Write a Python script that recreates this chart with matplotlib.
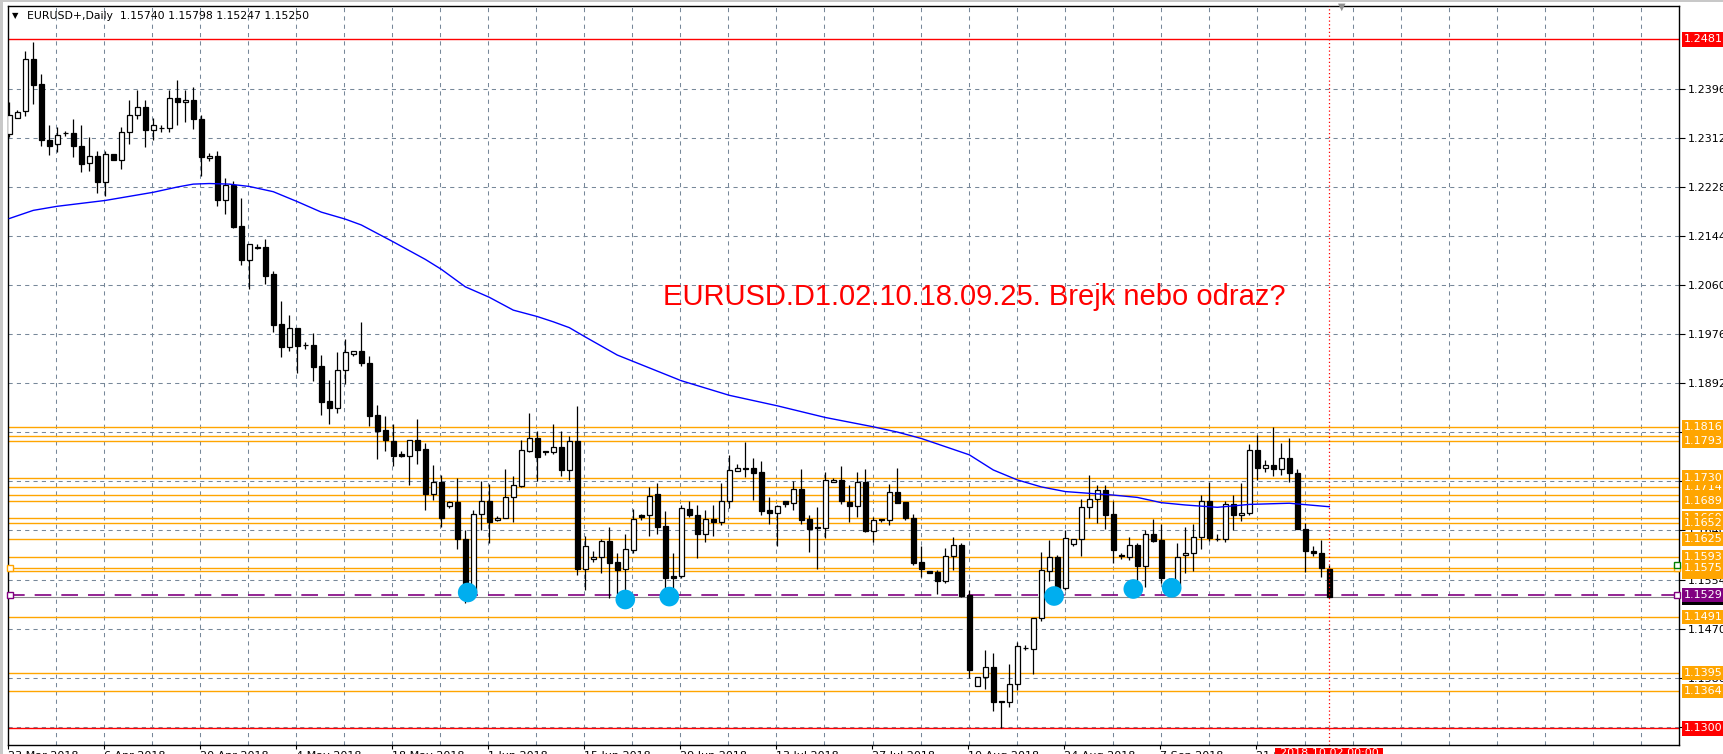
import matplotlib
matplotlib.use('Agg')
import matplotlib.pyplot as plt
import matplotlib.transforms as mtransforms
from matplotlib.patches import Rectangle
import numpy as np

W, H = 1724, 754

# daily candles, EURUSD+
opens = [1.2319, 1.2347, 1.2358, 1.2447, 1.2404, 1.2308, 1.2301, 1.2320, 1.2320, 1.2299,
         1.2269, 1.2281, 1.2237, 1.2284, 1.2275, 1.2322, 1.2352, 1.2366, 1.2325, 1.2329,
         1.2329, 1.2380, 1.2373, 1.2377, 1.2344, 1.2277, 1.2282, 1.2206, 1.2232, 1.2161,
         1.2103, 1.2123, 1.2126, 1.2079, 1.1993, 1.1954, 1.1986, 1.1957, 1.1957, 1.1921,
         1.1862, 1.1850, 1.1915, 1.1941, 1.1947, 1.1926, 1.1837, 1.1811, 1.1793, 1.1771,
         1.1767, 1.1794, 1.1779, 1.1702, 1.1723, 1.1682, 1.1688, 1.1625, 1.1532, 1.1667,
         1.1690, 1.1658, 1.1661, 1.1696, 1.1716, 1.1776, 1.1797, 1.1776, 1.1773, 1.1782,
         1.1743, 1.1793, 1.1574, 1.1591, 1.1594, 1.1621, 1.1585, 1.1574, 1.1606, 1.1666,
         1.1665, 1.1701, 1.1647, 1.1561, 1.1562, 1.1676, 1.1666, 1.1634, 1.1659, 1.1654,
         1.1689, 1.1741, 1.1747, 1.1747, 1.1739, 1.1674, 1.1669, 1.1690, 1.1686, 1.1710,
         1.1659, 1.1645, 1.1644, 1.1723, 1.1725, 1.1688, 1.1682, 1.1723, 1.1639, 1.1659,
         1.1658, 1.1705, 1.1688, 1.1660, 1.1585, 1.1569, 1.1568, 1.1552, 1.1596, 1.1614,
         1.1528, 1.1372, 1.1388, 1.1405, 1.1347, 1.1346, 1.1376, 1.1438, 1.1437, 1.1490,
         1.1570, 1.1594, 1.1541, 1.1616, 1.1624, 1.1679, 1.1693, 1.1709, 1.1667, 1.1598,
         1.1594, 1.1615, 1.1579, 1.1633, 1.1623, 1.1553, 1.1546, 1.1597, 1.1600, 1.1628,
         1.1689, 1.1624, 1.1624, 1.1685, 1.1665, 1.1670, 1.1778, 1.1746, 1.1752, 1.1745,
         1.1763, 1.1738, 1.1642, 1.1604, 1.1600, 1.1574]
highs = [1.2374, 1.2360, 1.2461, 1.2477, 1.2422, 1.2335, 1.2331, 1.2324, 1.2344, 1.2335,
         1.2313, 1.2289, 1.2290, 1.2285, 1.2331, 1.2377, 1.2395, 1.2378, 1.2346, 1.2335,
         1.2394, 1.2412, 1.2395, 1.2399, 1.2352, 1.2286, 1.2289, 1.2244, 1.2238, 1.2209,
         1.2131, 1.2130, 1.2139, 1.2084, 1.2032, 1.2008, 1.1986, 1.1963, 1.1977, 1.1940,
         1.1897, 1.1946, 1.1968, 1.1947, 1.1997, 1.1938, 1.1854, 1.1836, 1.1822, 1.1775,
         1.1795, 1.1831, 1.1789, 1.1751, 1.1734, 1.1689, 1.1729, 1.1640, 1.1675, 1.1724,
         1.1719, 1.1664, 1.1745, 1.1733, 1.1795, 1.1841, 1.1810, 1.1776, 1.1822, 1.1810,
         1.1801, 1.1853, 1.1629, 1.1604, 1.1625, 1.1646, 1.1600, 1.1633, 1.1676, 1.1667,
         1.1714, 1.1720, 1.1673, 1.1600, 1.1683, 1.1690, 1.1683, 1.1674, 1.1683, 1.1720,
         1.1769, 1.1753, 1.1791, 1.1763, 1.1758, 1.1697, 1.1683, 1.1690, 1.1724, 1.1745,
         1.1666, 1.1680, 1.1739, 1.1729, 1.1750, 1.1717, 1.1739, 1.1745, 1.1663, 1.1659,
         1.1719, 1.1746, 1.1688, 1.1668, 1.1612, 1.1570, 1.1572, 1.1609, 1.1628, 1.1617,
         1.1537, 1.1388, 1.1434, 1.1430, 1.1347, 1.1410, 1.1449, 1.1443, 1.1490, 1.1602,
         1.1623, 1.1598, 1.1640, 1.1624, 1.1694, 1.1734, 1.1718, 1.1718, 1.1690, 1.1600,
         1.1628, 1.1617, 1.1640, 1.1659, 1.1650, 1.1557, 1.1617, 1.1646, 1.1650, 1.1700,
         1.1723, 1.1633, 1.1690, 1.1700, 1.1720, 1.1788, 1.1803, 1.1760, 1.1816, 1.1790,
         1.1797, 1.1745, 1.1652, 1.1612, 1.1623, 1.15798]
lows = [1.2314, 1.2347, 1.2350, 1.2371, 1.2299, 1.2283, 1.2288, 1.2315, 1.2280, 1.2253,
        1.2256, 1.2217, 1.2213, 1.2274, 1.2259, 1.2302, 1.2345, 1.2297, 1.2308, 1.2322,
        1.2323, 1.2334, 1.2340, 1.2328, 1.2247, 1.2273, 1.2196, 1.2181, 1.2158, 1.2095,
        1.2053, 1.2122, 1.2062, 1.1980, 1.1937, 1.1947, 1.1909, 1.1951, 1.1896, 1.1837,
        1.1822, 1.1841, 1.1891, 1.1939, 1.1922, 1.1818, 1.1762, 1.1776, 1.1749, 1.1765,
        1.1717, 1.1754, 1.1675, 1.1691, 1.1646, 1.1677, 1.1607, 1.1515, 1.1525, 1.1640,
        1.1617, 1.1656, 1.1660, 1.1653, 1.1713, 1.1774, 1.1724, 1.1769, 1.1771, 1.1733,
        1.1726, 1.1563, 1.1537, 1.1586, 1.1566, 1.1523, 1.1531, 1.1525, 1.1600, 1.1658,
        1.1629, 1.1634, 1.1527, 1.1527, 1.1557, 1.1663, 1.1592, 1.1620, 1.1630, 1.1649,
        1.1678, 1.1741, 1.1731, 1.1691, 1.1665, 1.1650, 1.1613, 1.1680, 1.1675, 1.1650,
        1.1602, 1.1574, 1.1627, 1.1723, 1.1684, 1.1654, 1.1663, 1.1637, 1.1619, 1.1653,
        1.1648, 1.1686, 1.1657, 1.1580, 1.1559, 1.1566, 1.1530, 1.1549, 1.1572, 1.1525,
        1.1386, 1.1372, 1.1367, 1.1330, 1.1301, 1.1336, 1.1366, 1.1434, 1.1394, 1.1485,
        1.1553, 1.1526, 1.1537, 1.1613, 1.1596, 1.1660, 1.1652, 1.1641, 1.1584, 1.1590,
        1.1588, 1.1540, 1.1542, 1.1619, 1.1549, 1.1530, 1.1540, 1.1566, 1.1570, 1.1608,
        1.1622, 1.1622, 1.1620, 1.1640, 1.1655, 1.1665, 1.1725, 1.1740, 1.1733, 1.1735,
        1.1722, 1.1642, 1.1568, 1.1595, 1.1560, 1.15247]
closes = [1.2352, 1.2356, 1.2447, 1.2403, 1.2308, 1.2299, 1.2317, 1.2320, 1.2299, 1.2268,
          1.2281, 1.2237, 1.2284, 1.2275, 1.2322, 1.2352, 1.2366, 1.2325, 1.2335, 1.2329,
          1.2380, 1.2373, 1.2377, 1.2344, 1.2280, 1.2282, 1.2206, 1.2232, 1.2159, 1.2103,
          1.2130, 1.2126, 1.2076, 1.1992, 1.1954, 1.1986, 1.1956, 1.1957, 1.1920, 1.1860,
          1.1850, 1.1915, 1.1945, 1.1947, 1.1926, 1.1836, 1.1810, 1.1794, 1.1767, 1.1767,
          1.1794, 1.1777, 1.1702, 1.1722, 1.1660, 1.1688, 1.1624, 1.1535, 1.1667, 1.1690,
          1.1654, 1.1661, 1.1697, 1.1717, 1.1777, 1.1797, 1.1766, 1.1773, 1.1782, 1.1743,
          1.1793, 1.1574, 1.1613, 1.1594, 1.1621, 1.1584, 1.1571, 1.1608, 1.1659, 1.1663,
          1.1699, 1.1646, 1.1558, 1.1558, 1.1678, 1.1665, 1.1634, 1.1659, 1.1654, 1.1690,
          1.1743, 1.1746, 1.1745, 1.1738, 1.1673, 1.1669, 1.1681, 1.1685, 1.1710, 1.1658,
          1.1642, 1.1643, 1.1726, 1.1726, 1.1689, 1.1682, 1.1722, 1.1638, 1.1658, 1.1657,
          1.1705, 1.1687, 1.1661, 1.1584, 1.1573, 1.1566, 1.1552, 1.1596, 1.1614, 1.1527,
          1.1401, 1.1388, 1.1405, 1.1346, 1.1346, 1.1376, 1.1441, 1.1438, 1.1490, 1.1571,
          1.1593, 1.1537, 1.1627, 1.1624, 1.1680, 1.1693, 1.1709, 1.1666, 1.1606, 1.1596,
          1.1614, 1.1579, 1.1633, 1.1622, 1.1558, 1.1546, 1.1594, 1.1600, 1.1628, 1.1689,
          1.1626, 1.1624, 1.1685, 1.1665, 1.1670, 1.1778, 1.1746, 1.1752, 1.1745, 1.1763,
          1.1738, 1.1642, 1.1604, 1.1600, 1.1575, 1.15250]

# moving average (blue), read at a few bars
ma_idx = [0, 3, 6, 9, 12, 15, 18, 21, 23, 25, 27.5, 30, 33, 36, 39, 42, 44, 48, 52, 54,
          57, 60, 63, 66, 68, 70, 72, 76, 80, 84, 90, 96, 102, 108, 111, 114, 117, 120,
          123, 126, 129, 132, 135, 138, 141, 144, 147, 151, 155, 160, 165]
ma_val = [1.2174, 1.2188, 1.2195, 1.2200, 1.2205, 1.2212, 1.2219, 1.2228, 1.2233, 1.2234,
          1.2233, 1.2229, 1.2220, 1.2203, 1.2185, 1.2173, 1.2163, 1.2134, 1.2104, 1.2087,
          1.2057, 1.2039, 1.2017, 1.2006, 1.1997, 1.1987, 1.1971, 1.1940, 1.1918, 1.1896,
          1.1871, 1.1853, 1.1833, 1.1817, 1.1808, 1.1797, 1.1783, 1.1769, 1.1743, 1.1726,
          1.1714, 1.1706, 1.1703, 1.1700, 1.1696, 1.1687, 1.1683, 1.1679, 1.1684, 1.1686,
          1.1680]

# horizontal levels
orange_levels = [1.1802, 1.1816, 1.1793, 1.1700, 1.1714, 1.1689, 1.1730, 1.1660, 1.1652,
                 1.1625, 1.1593, 1.1569, 1.1575, 1.1491, 1.1395, 1.1364]
red_levels = [1.2481, 1.1300]
purple_level = 1.1529
bid_level = 1.15250

# marked touches (blue dots)
dot_idx = [57.3, 77, 82.5, 130.6, 140.5, 145.3]
dot_val = [1.1533, 1.1521, 1.1526, 1.1527, 1.1539, 1.1541]

grid_prices = [1.2396, 1.2312, 1.2228, 1.2144, 1.2060, 1.1976, 1.1892, 1.1808, 1.1724,
               1.1640, 1.1554, 1.1470, 1.1386, 1.1302]
date_labels = ['23 Mar 2018', '6 Apr 2018', '20 Apr 2018', '4 May 2018', '18 May 2018',
               '1 Jun 2018', '15 Jun 2018', '29 Jun 2018', '13 Jul 2018', '27 Jul 2018',
               '10 Aug 2018', '24 Aug 2018', '7 Sep 2018', '21 Sep 2018']

header = 'EURUSD+,Daily  1.15740 1.15798 1.15247 1.15250'
title = 'EURUSD.D1.02.10.18.09.25. Brejk nebo odraz?'

fig = plt.figure(figsize=(W / 100, H / 100), dpi=100)
fig.patch.set_facecolor('white')
ax = fig.add_axes([8 / W, 9 / H, 1671 / W, 739 / H])
ax.set_facecolor('white')
ax.set_xlim(-0.16, 208.71)
ax.set_ylim(1.12716, 1.25383)

grid_c = '#778899'
for k in range(1, 35):
    ax.axvline(6 * k - 0.1, color=grid_c, lw=0.75, ls=(0, (4, 4)), zorder=1)
for p in grid_prices:
    ax.axhline(p, color=grid_c, lw=0.75, ls=(0, (4, 4)), zorder=1)

for p in orange_levels:
    ax.axhline(p, color='#FFA500', lw=1.0, zorder=2)
for p in red_levels:
    ax.axhline(p, color='#FF0000', lw=1.0, zorder=2)
ax.axhline(bid_level, color='#8c8c8c', lw=0.8, zorder=2)
ax.axhline(purple_level, color='#800080', lw=1.2, ls=(0, (10, 6)), zorder=2)

# candles
x = np.arange(len(opens))
o = np.array(opens)
c = np.array(closes)
ax.vlines(x, lows, highs, color='black', lw=0.9, zorder=3)
bull = c >= o
body = np.maximum(np.abs(c - o), 0.00003)
ax.bar(x[bull], body[bull], bottom=np.minimum(o, c)[bull], width=0.6,
       color='white', edgecolor='black', linewidth=0.9, zorder=4)
ax.bar(x[~bull], body[~bull], bottom=np.minimum(o, c)[~bull], width=0.6,
       color='black', edgecolor='black', linewidth=0.9, zorder=4)

ax.plot(ma_idx, ma_val, color='#0000FF', lw=1.0, zorder=5)

ax.axvline(165, color='#FF0000', lw=0.9, ls=(0, (1, 2)), zorder=5)

ax.scatter(dot_idx, dot_val, s=200, color='#00AEEF', edgecolors='none', zorder=6)

# object anchor squares
ax.plot([0.05, 208.4], [purple_level] * 2, ls='none', marker='s', ms=4,
        mfc='white', mec='#800080', mew=1, zorder=6, clip_on=False)
ax.plot([0.05, 208.4], [1.1575] * 2, ls='none', marker='s', ms=4,
        mfc='white', mec='#FFA500', mew=1, zorder=6, clip_on=False)
ax.plot([208.4], [1.1580], ls='none', marker='s', ms=4,
        mfc='white', mec='#008000', mew=1, zorder=6, clip_on=False)

for s in ax.spines.values():
    s.set_color('black')
    s.set_linewidth(1.0)

ax.yaxis.tick_right()
ax.set_yticks(grid_prices)
ax.set_yticklabels(['%.4f' % p for p in grid_prices])
ax.tick_params(axis='y', direction='out', length=4, width=0.8, pad=2,
               labelsize=8, colors='black')
ax.set_xticks([12 * j - 0.16 for j in range(len(date_labels))])
ax.set_xticklabels(date_labels, ha='left')
ax.tick_params(axis='x', direction='out', length=3, width=0.8, pad=1, labelsize=8)

# price labels on the right scale
tr = mtransforms.blended_transform_factory(fig.transFigure, ax.transData)


def price_box(p, txt, col, tc='white'):
    fig.text(1684 / W, p, txt, transform=tr, ha='left', va='center', fontsize=8,
             color=tc, zorder=10,
             bbox=dict(boxstyle='square,pad=0.2', fc=col, ec='none'))


for p in orange_levels:
    price_box(p, '%.4f' % p, '#FFA500')
price_box(bid_level - 0.0001, '1.1525', 'black')
price_box(purple_level, '%.4f' % purple_level, '#800080')
for p in red_levels:
    price_box(p, '%.4f' % p, '#FF0000')

# current bar time label
fig.patches.append(Rectangle((1275 / W, 0), 108 / W, 6 / H, transform=fig.transFigure,
                             fc='#FF0000', ec='none', zorder=9))
fig.text(1329 / W, 1 - 748 / H, '2018.10.02 00:00', ha='center', va='top',
         fontsize=8, color='white', zorder=10)

# window edges
fig.patches.append(Rectangle((0, 0), 3 / W, 1, transform=fig.transFigure,
                             fc='#c8c8c8', ec='none', zorder=9))
fig.patches.append(Rectangle((0, 1 - 2 / H), 1, 2 / H, transform=fig.transFigure,
                             fc='#c8c8c8', ec='none', zorder=9))

# chart shift marker
fig.text(1342 / W, 1 - 7 / H, '\u25bc', ha='center', va='center', fontsize=7,
         color='#909090', zorder=10)

fig.text(12 / W, 1 - 16 / H, '\u25bc', ha='left', va='center', fontsize=6,
         color='black', zorder=10)
fig.text(27 / W, 1 - 16 / H, header, ha='left', va='center', fontsize=7.8,
         color='black', zorder=10)

fig.text(663 / W, 1 - 297 / H, title, ha='left', va='center', fontsize=21,
         family='Liberation Sans', color='#FF0000', zorder=10)

fig.savefig('out.png', dpi=100)
